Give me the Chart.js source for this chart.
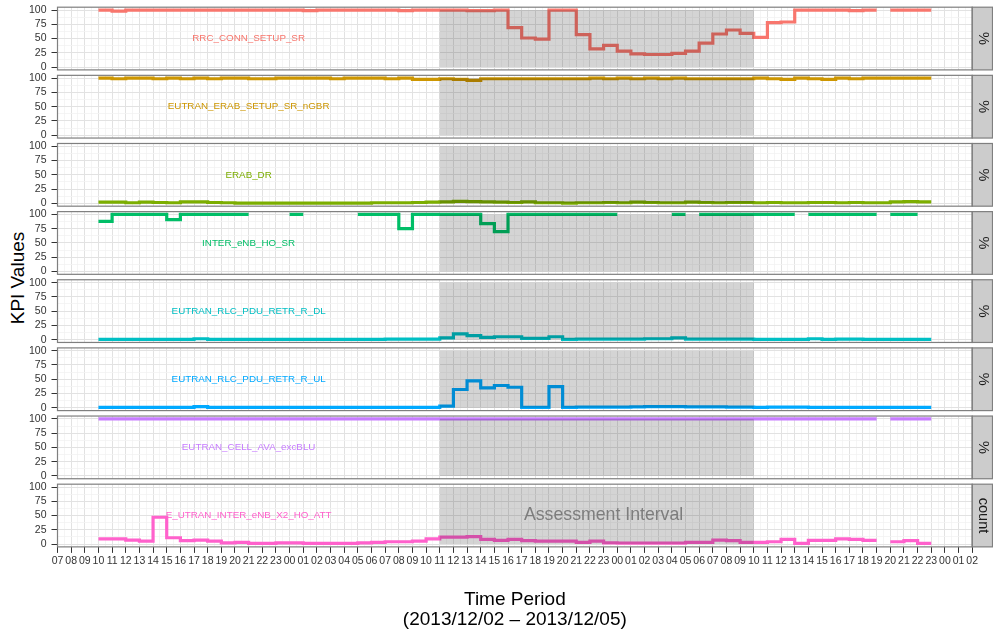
<!DOCTYPE html>
<html>
<head>
<meta charset="utf-8">
<script src="https://cdn.jsdelivr.net/npm/chart.js@4.4.1/dist/chart.umd.min.js"></script>
<style>
  body { margin: 0; background: #fff; width: 993px; height: 636px; position: relative; overflow: hidden;
         font-family: "Liberation Sans", Arial, sans-serif; }
  canvas { position: absolute; left: 0; }
  #ytitle { position: absolute; left: 18px; top: 278px; transform: translate(-50%, -50%) rotate(-90deg);
            font-size: 19px; white-space: nowrap; color: #000; }
</style>
</head>
<body>
<div id="ytitle">KPI Values</div>
<script>
// hourly ticks 2013/12/02 07:00 -> 2013/12/05 02:00
const tickLabels = [
  '07','08','09','10','11','12','13','14','15','16','17','18','19','20','21','22','23',
  '00','01','02','03','04','05','06','07','08','09','10','11','12','13','14','15','16','17','18','19','20','21','22','23',
  '00','01','02','03','04','05','06','07','08','09','10','11','12','13','14','15','16','17','18','19','20','21','22','23',
  '00','01','02'
];
const yTicks = [0, 25, 50, 75, 100];
const yTickLabels = ['0', '25', '50', '75', '100'];

const firstPoint = 3;      // first sample = 10:00 on 12/02
const assessStart = 28;    // 11:00 on 12/03
const assessEnd = 51;      // 10:00 on 12/04

const kpiNames = ['RRC_CONN_SETUP_SR', 'EUTRAN_ERAB_SETUP_SR_nGBR', 'ERAB_DR', 'INTER_eNB_HO_SR',
  'EUTRAN_RLC_PDU_RETR_R_DL', 'EUTRAN_RLC_PDU_RETR_R_UL', 'EUTRAN_CELL_AVA_excBLU', 'E_UTRAN_INTER_eNB_X2_HO_ATT'];
const kpiUnits = ['%', '%', '%', '%', '%', '%', '%', 'count'];
const kpiColors = ['#F8766D', '#CD9600', '#7CAE00', '#00BE67', '#00BFC4', '#00A9FF', '#C77CFF', '#FF61CC'];

// hourly values, 10:00 12/02 .. 23:00 12/04 (null = missing)
const rrcConnSetupSr = [
  100, 98, 100, 100, 100, 100, 100, 100, 100, 100,
  100, 100, 100, 100, 100, 99, 100, 100, 100, 100,
  100, 100, 99, 100, 100, 100, 100, 99, 99, 100,
  69, 51, 49, 100, 100, 57, 32, 38, 28, 23,
  22, 22, 24, 28, 42, 58, 65, 59, 52, 78,
  79, 100, 100, 100, 100, 99, 100, null, 100, 100,
  100, 100];
const erabSetupSr = [
  100, 99, 100, 100, 99, 100, 99, 100, 99, 100,
  100, 99, 99, 100, 100, 100, 100, 99, 100, 100,
  100, 99, 100, 98, 98, 99, 98, 96, 99, 99,
  99, 99, 99, 99, 99, 99, 100, 99, 100, 99,
  100, 99, 100, 99, 99, 99, 99, 99, 100, 99,
  98, 100, 99, 98, 100, 99, 100, 100, 100, 100,
  100, 100];
const erabDr = [
  2, 2, 1, 2, 1.5, 1, 2.5, 2.5, 1.5, 1,
  0.5, 0.5, 0.5, 0.5, 0.5, 0.5, 0.5, 0.5, 0.5, 0.5,
  1, 1, 1, 1.5, 2, 2.5, 3.5, 3, 2.5, 2,
  1.5, 2.5, 1, 1, 0.5, 1, 1, 1.5, 1, 2,
  1.5, 1, 1, 2, 1.5, 1, 1.5, 1.5, 1, 1.5,
  1, 1, 1.5, 1.5, 1, 1.5, 1, 1, 2.5, 3,
  2.5, 2.5];
const interEnbHoSr = [
  88, 100, 100, 100, 100, 91, 100, 100, 100, 100,
  100, null, null, null, 100, null, null, null, null, 100,
  100, 100, 75, 100, 100, 100, 100, 100, 84, 70,
  100, 100, 100, 100, 100, 100, 100, 100, null, null,
  null, null, 100, null, 100, 100, 100, 100, 100, 100,
  100, null, 100, 100, 100, 100, 100, null, 100, 100,
  null, null];
const rlcRetrDl = [
  0.5, 0.5, 0.5, 0.5, 0.5, 0.5, 0.5, 1.5, 0.5, 0.5,
  0.5, 0.5, 0.5, 0.5, 0.5, 0.5, 0.5, 0.5, 0.5, 0.5,
  0.5, 1, 1, 1, 1, 3, 10, 7, 4, 5,
  5, 2, 2, 5, 0.5, 1, 1, 1, 1, 1,
  1.5, 1.5, 3, 1, 1, 1, 1, 1, 0.5, 0.5,
  0.5, 0.5, 1.5, 0.5, 1, 1, 0.5, 0.5, 0.5, 0.5,
  0.5, 0.5];
const rlcRetrUl = [
  0.5, 0.5, 0.5, 0.5, 0.5, 0.5, 0.5, 2, 0.5, 0.5,
  0.5, 0.5, 0.5, 0.5, 0.5, 0.5, 0.5, 0.5, 0.5, 0.5,
  0.5, 0.5, 0.5, 0.5, 0.5, 3, 32, 47, 35, 39,
  36, 0.5, 0.5, 37, 0.5, 1, 1, 1, 1, 1.5,
  2, 2, 2, 1.5, 1.5, 1.5, 1, 1, 0.5, 1,
  1, 1, 0.5, 0.5, 0.5, 0.5, 0.5, 0.5, 0.5, 0.5,
  0.5, 0.5];
const cellAva = [
  100, 100, 100, 100, 100, 100, 100, 100, 100, 100,
  100, 100, 100, 100, 100, 100, 100, 100, 100, 100,
  100, 100, 100, 100, 100, 100, 100, 100, 100, 100,
  100, 100, 100, 100, 100, 100, 100, 100, 100, 100,
  100, 100, 100, 100, 100, 100, 100, 100, 100, 100,
  100, 100, 100, 100, 100, 100, 100, null, 100, 100,
  100, 100];
const x2HoAtt = [
  9, 9, 7, 5, 47, 11, 6, 7, 5, 2,
  3, 1, 1, 2, 2, 1, 1, 1, 1, 2,
  3, 4, 4, 5, 9, 12, 12, 13, 8, 6.5,
  8, 6, 5, 5, 5, 3, 5, 2, 1.5, 1.5,
  1.5, 1.5, 1.5, 3, 3, 7, 6, 3, 3, 4,
  8, 1, 6.5, 6.5, 9, 8, 6.5, null, 4, 6,
  1, 1];

const series = [rrcConnSetupSr, erabSetupSr, erabDr, interEnbHoSr, rlcRetrDl, rlcRetrUl, cellAva, x2HoAtt];

// layout (px)
const W = 993, H = 636;
const PLOT_L = 57.5, PLOT_R = 972.2;
const PANEL_TOP0 = 7.2, PANEL_PITCH = 68.14, PANEL_H = 62.7;
const FONT = '"Liberation Sans", Arial, sans-serif';
Chart.defaults.font.family = FONT;

const xMax = tickLabels.length - 1;
const xGrid = [];
for (let i = 0; i <= xMax; i++) { xGrid.push(i); if (i < xMax) xGrid.push(i + 0.5); }
const yGrid = [];
yTicks.forEach((v, i) => { yGrid.push(v); if (i < yTicks.length - 1) yGrid.push((v + yTicks[i + 1]) / 2); });

const isMajorX = v => Number.isInteger(v);
const isMajorY = v => yTicks.includes(v);

const panelPlugin = {
  id: 'panel',
  afterDatasetsDraw(chart, args, opts) {
    const {ctx, scales: {x, y}} = chart;
    ctx.save();
    ctx.font = '9.8px ' + FONT;
    ctx.fillStyle = opts.color;
    ctx.textAlign = 'center';
    ctx.textBaseline = 'middle';
    ctx.fillText(opts.name, x.getPixelForValue(14), y.getPixelForValue(50));
    // assessment interval shading
    const x0 = x.getPixelForValue(assessStart), x1 = x.getPixelForValue(assessEnd);
    const y0 = y.getPixelForValue(100), y1 = y.getPixelForValue(0);
    ctx.fillStyle = 'rgba(0,0,0,0.17)';
    ctx.fillRect(x0, y0, x1 - x0, y1 - y0);
    if (opts.last) {
      ctx.font = '17.7px ' + FONT;
      ctx.fillStyle = '#7d7d7d';
      ctx.fillText('Assessment Interval', x.getPixelForValue(40), y.getPixelForValue(50));
    }
    ctx.restore();
  },
  afterDraw(chart, args, opts) {
    const {ctx, chartArea: a} = chart;
    ctx.save();
    // strip on the right
    ctx.fillStyle = '#cccccc';
    ctx.fillRect(a.right, a.top, W - 0.5 - a.right, a.bottom - a.top);
    ctx.strokeStyle = '#7f7f7f';
    ctx.lineWidth = 1.2;
    ctx.strokeRect(a.right, a.top, W - 0.5 - a.right, a.bottom - a.top);
    ctx.translate((a.right + W) / 2, (a.top + a.bottom) / 2);
    ctx.rotate(Math.PI / 2);
    ctx.font = '14.5px ' + FONT;
    ctx.fillStyle = '#1a1a1a';
    ctx.textAlign = 'center';
    ctx.textBaseline = 'middle';
    ctx.fillText(opts.unit, 0, 0);
    ctx.restore();
    // panel border
    ctx.save();
    ctx.strokeStyle = '#7f7f7f';
    ctx.lineWidth = 1.2;
    ctx.strokeRect(a.left, a.top, a.right - a.left, a.bottom - a.top);
    ctx.restore();
  }
};

kpiNames.forEach((name, k) => {
  const values = series[k];
  const last = k === kpiNames.length - 1;
  const top = PANEL_TOP0 + k * PANEL_PITCH;
  const ct = Math.floor(top) - 6;
  const padTop = top - ct;
  const ch = last ? H - ct : Math.ceil(top + PANEL_H + 6) - ct;
  const padBottom = last ? 0 : ch - padTop - PANEL_H;
  const xAxisH = last ? ch - padTop - PANEL_H : 0;

  const canvas = document.createElement('canvas');
  canvas.width = W;
  canvas.height = ch;
  canvas.style.top = ct + 'px';
  canvas.style.width = W + 'px';
  canvas.style.height = ch + 'px';
  document.body.appendChild(canvas);

  // missing hours: keep previous level, hide the following step
  let prev = null;
  const pts = values.map((v, i) => {
    if (v !== null) prev = v;
    return {x: firstPoint + i, y: v === null ? prev : v};
  });

  new Chart(canvas, {
    type: 'line',
    data: {
      datasets: [{
        data: pts,
        borderColor: kpiColors[k],
        borderWidth: 3.2,
        pointRadius: 0,
        stepped: 'before',
        borderCapStyle: 'butt',
        borderJoinStyle: 'miter',
        segment: {
          borderColor: c => values[c.p0DataIndex] === null ? 'rgba(0,0,0,0)' : undefined
        }
      }]
    },
    options: {
      responsive: false,
      animation: false,
      devicePixelRatio: 1,
      events: [],
      layout: {padding: {top: padTop, bottom: padBottom, left: 0, right: W - PLOT_R}},
      plugins: {
        legend: {display: false},
        tooltip: {enabled: false},
        panel: {name: name, color: kpiColors[k], unit: kpiUnits[k], last: last}
      },
      scales: {
        x: {
          type: 'linear',
          min: 0,
          max: xMax,
          afterBuildTicks: s => { s.ticks = xGrid.map(v => ({value: v})); },
          afterFit: s => { s.height = xAxisH; s.paddingLeft = 0; s.paddingRight = 0; },
          border: {display: false},
          grid: {
            color: c => isMajorX(c.tick.value) ? '#e2e2e2' : '#f3f3f3',
            lineWidth: c => isMajorX(c.tick.value) ? 1 : 0.8,
            drawTicks: last,
            tickLength: 6,
            tickColor: c => isMajorX(c.tick.value) ? '#333' : 'rgba(0,0,0,0)',
            tickWidth: 1
          },
          ticks: {
            display: last,
            autoSkip: false,
            maxRotation: 0,
            minRotation: 0,
            padding: 2,
            color: '#333',
            font: {size: 10.5},
            callback: v => isMajorX(v) ? tickLabels[v] : ''
          },
          title: {
            display: last,
            text: ['Time Period', '(2013/12/02 \u2013 2013/12/05)'],
            color: '#000',
            font: {size: 19, lineHeight: '20px'},
            padding: {top: 0, bottom: 6}
          }
        },
        y: {
          type: 'linear',
          min: -5,
          max: 105,
          afterBuildTicks: s => { s.ticks = yGrid.map(v => ({value: v})); },
          afterFit: s => { s.width = PLOT_L; s.paddingTop = 0; s.paddingBottom = 0; },
          border: {display: false},
          grid: {
            color: c => isMajorY(c.tick.value) ? '#e2e2e2' : '#f3f3f3',
            lineWidth: c => isMajorY(c.tick.value) ? 1 : 0.8,
            drawTicks: true,
            tickLength: 6,
            tickColor: c => isMajorY(c.tick.value) ? '#333' : 'rgba(0,0,0,0)',
            tickWidth: 1
          },
          ticks: {
            autoSkip: false,
            padding: 5,
            color: '#333',
            font: {size: 10.5},
            callback: v => isMajorY(v) ? yTickLabels[yTicks.indexOf(v)] : ''
          }
        }
      }
    },
    plugins: [panelPlugin]
  });
});
</script>
</body>
</html>
